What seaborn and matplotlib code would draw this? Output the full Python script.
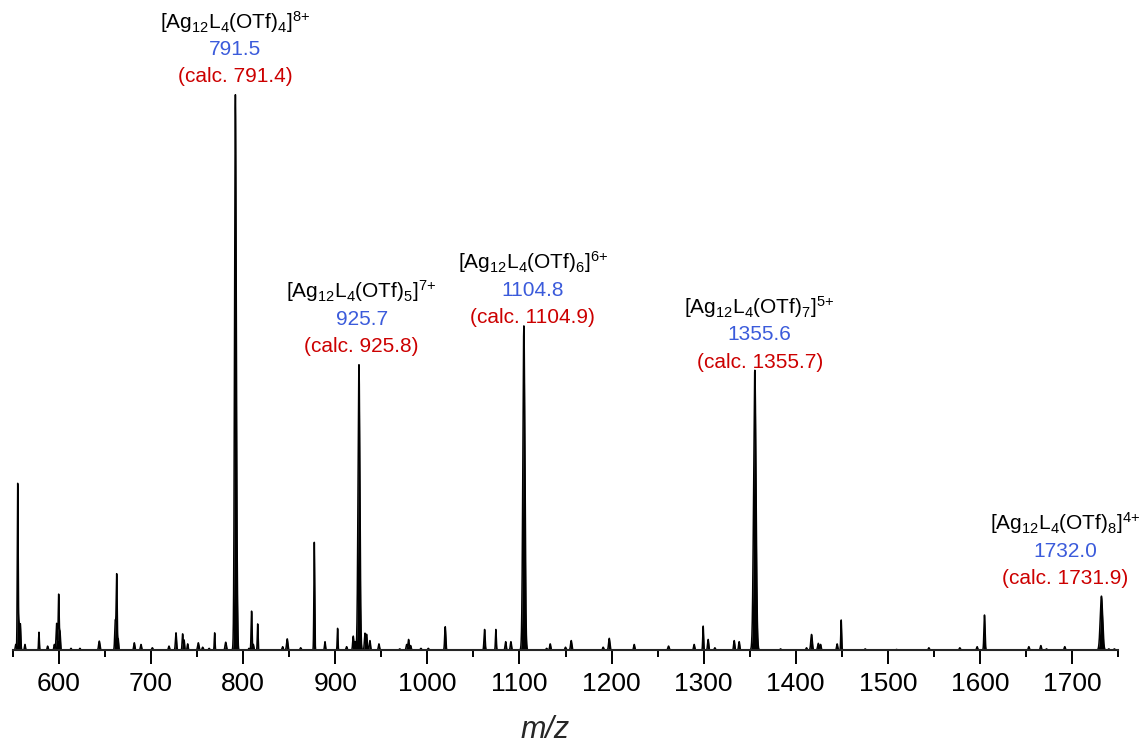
import numpy as np
import pandas as pd
import matplotlib
matplotlib.use("Agg")
import matplotlib.pyplot as plt
import seaborn as sns

# ---- peak table: centroid m/z, relative intensity (%), envelope width (sigma, m/z)
peak_mz = [553.0, 555.1, 556.5, 558.0, 563.0, 578.2, 587.6, 594.9, 597.4, 599.6,
           601.0, 613.0, 622.7, 643.7, 661.1, 662.6, 664.2, 681.7, 689.0, 701.3,
           719.4, 727.0, 734.2, 735.8, 739.7, 751.2, 756.0, 763.0, 769.0, 781.0,
           791.5, 793.4, 806.2, 809.1, 811.0, 815.7, 842.8, 847.8, 862.4, 877.2,
           888.8, 902.5, 912.3, 919.5, 921.6, 925.7, 932.2, 934.0, 937.6, 947.4,
           970.0, 977.5, 979.6, 981.8, 993.0, 1001.0, 1019.4, 1062.1, 1074.4, 1085.0,
           1090.7, 1104.8, 1129.5, 1133.4, 1150.0, 1156.2, 1190.9, 1197.5, 1224.6, 1261.9,
           1289.7, 1299.5, 1304.9, 1312.2, 1333.2, 1338.6, 1355.6, 1383.5, 1411.7, 1417.2,
           1424.5, 1427.0, 1445.0, 1449.4, 1475.4, 1509.5, 1544.6, 1578.2, 1597.0, 1605.0,
           1653.2, 1666.2, 1672.3, 1692.2, 1732.0, 1740.0, 1746.0]
peak_int = [1.0, 29.7, 5.0, 4.5, 1.0, 3.2, 0.7, 1.0, 4.8, 10.0,
            3.3, 0.3, 0.3, 1.6, 5.3, 13.5, 2.0, 1.3, 1.0, 0.4,
            0.7, 3.1, 2.9, 1.8, 1.1, 1.3, 0.5, 0.3, 3.1, 1.4,
            100.0, 8.0, 0.3, 7.0, 1.0, 4.7, 0.6, 2.0, 0.4, 19.4,
            1.5, 3.9, 0.6, 2.5, 1.5, 51.4, 3.0, 2.8, 1.7, 1.1,
            0.2, 1.0, 1.9, 0.8, 0.3, 0.3, 4.2, 3.7, 3.7, 1.5,
            1.5, 58.4, 0.3, 1.1, 0.5, 1.7, 0.5, 2.1, 1.0, 0.7,
            1.0, 4.3, 1.9, 0.4, 1.7, 1.5, 50.4, 0.2, 0.4, 2.8,
            1.2, 1.0, 1.1, 5.4, 0.2, 0.1, 0.4, 0.4, 0.6, 6.3,
            0.6, 0.8, 0.2, 0.6, 9.7, 0.2, 0.2]
peak_sigma = [0.5, 0.45, 0.6, 0.5, 0.5, 0.4, 0.5, 0.5, 0.6, 0.5,
              0.5, 0.5, 0.5, 0.7, 0.6, 0.5, 0.5, 0.6, 0.6, 0.6,
              0.6, 0.6, 0.5, 0.5, 0.5, 0.7, 0.6, 0.6, 0.4, 0.7,
              0.9, 0.6, 0.5, 0.5, 0.5, 0.4, 0.6, 0.7, 0.6, 0.45,
              0.5, 0.4, 0.6, 0.6, 0.5, 1.0, 0.6, 0.6, 0.6, 0.6,
              0.6, 0.6, 0.6, 0.6, 0.6, 0.6, 0.6, 0.6, 0.45, 0.6,
              0.6, 1.1, 0.6, 0.6, 0.6, 0.7, 0.6, 0.7, 0.6, 0.7,
              0.6, 0.45, 0.6, 0.6, 0.6, 0.6, 1.3, 0.6, 0.6, 0.8,
              0.7, 0.6, 0.6, 0.45, 0.6, 0.6, 0.6, 0.6, 0.6, 0.6,
              0.6, 0.6, 0.6, 0.6, 1.3, 0.6, 0.6]

# ---- assigned ions [Ag12L4(OTf)n]^z+
otf_count = [4, 5, 6, 7, 8]
charge = [8, 7, 6, 5, 4]
mz_found = [791.5, 925.7, 1104.8, 1355.6, 1732.0]
mz_calc = [791.4, 925.8, 1104.9, 1355.7, 1731.9]

# label placement (points): horizontal shift, lowest-line baseline above peak
label_dx = [0, 2, 6.5, 3.5, -26]
label_dy = [9, 9, 2, 2, 9]
line_step = 19.5

xtick_major = list(range(600, 1701, 100))
xtick_minor = list(range(550, 1751, 100))

# ---- build the profile spectrum from the peak table
grid = np.arange(550.0, 1750.0001, 0.02)
profile = np.zeros_like(grid)
for m, h, s in zip(peak_mz, peak_int, peak_sigma):
    profile += h * np.exp(-0.5 * ((grid - m) / s) ** 2)
spec = pd.DataFrame({"mz": grid, "intensity": profile})

sns.set_theme(style="ticks")
plt.rcParams["font.family"] = ["Liberation Sans", "DejaVu Sans"]
plt.rcParams["mathtext.fontset"] = "custom"
plt.rcParams["mathtext.rm"] = "Liberation Sans"
plt.rcParams["mathtext.it"] = "Liberation Sans:italic"
plt.rcParams["mathtext.bf"] = "Liberation Sans:bold"

fig = plt.figure(figsize=(11.45, 7.45), dpi=100)
ax = fig.add_axes([13 / 1145, 95 / 745, 1105 / 1145, 650 / 745])

ax.fill_between(spec["mz"], 0, spec["intensity"], color="black", lw=0)
sns.lineplot(data=spec, x="mz", y="intensity", color="black", lw=1.1,
             estimator=None, sort=False, ax=ax)

ax.set_xlim(550, 1750)
ax.set_ylim(0, 100 * 650 / 555)

for side in ("left", "right", "top"):
    ax.spines[side].set_visible(False)
ax.spines["bottom"].set_linewidth(1.5)
ax.set_yticks([])
ax.set_xticks(xtick_major)
ax.set_xticks(xtick_minor, minor=True)
ax.tick_params(axis="x", which="major", length=10, width=1.4, direction="out",
               labelsize=19, pad=6, colors="black")
ax.tick_params(axis="x", which="minor", length=5, width=1.4, direction="out",
               colors="black")
ax.set_ylabel("")
ax.set_xlabel("m/z", fontsize=22, fontstyle="italic")
# label top edge sits ~65 px below the axis line, centred a little left of mid-axis
ax.xaxis.set_label_coords((545 - 13) / 1105, -65 / 650)

blue = "#3b5bdb"
red = "#cc0000"
for n, z, found, calc, dx, dy in zip(otf_count, charge, mz_found, mz_calc,
                                     label_dx, label_dy):
    top = peak_int[peak_mz.index(found)]
    ion = r"[Ag$_{12}$L$_4$(OTf)$_{%d}$]$^{%d\!+}$" % (n, z)
    lines = [(f"(calc. {calc:.1f})", red), (f"{found:.1f}", blue), (ion, "black")]
    for k, (txt, col) in enumerate(lines):
        ax.annotate(txt, xy=(found, top), xytext=(dx, dy + k * line_step),
                    textcoords="offset points", ha="center", va="baseline",
                    fontsize=15, color=col, annotation_clip=False)

fig.savefig("out.png", dpi=100)
